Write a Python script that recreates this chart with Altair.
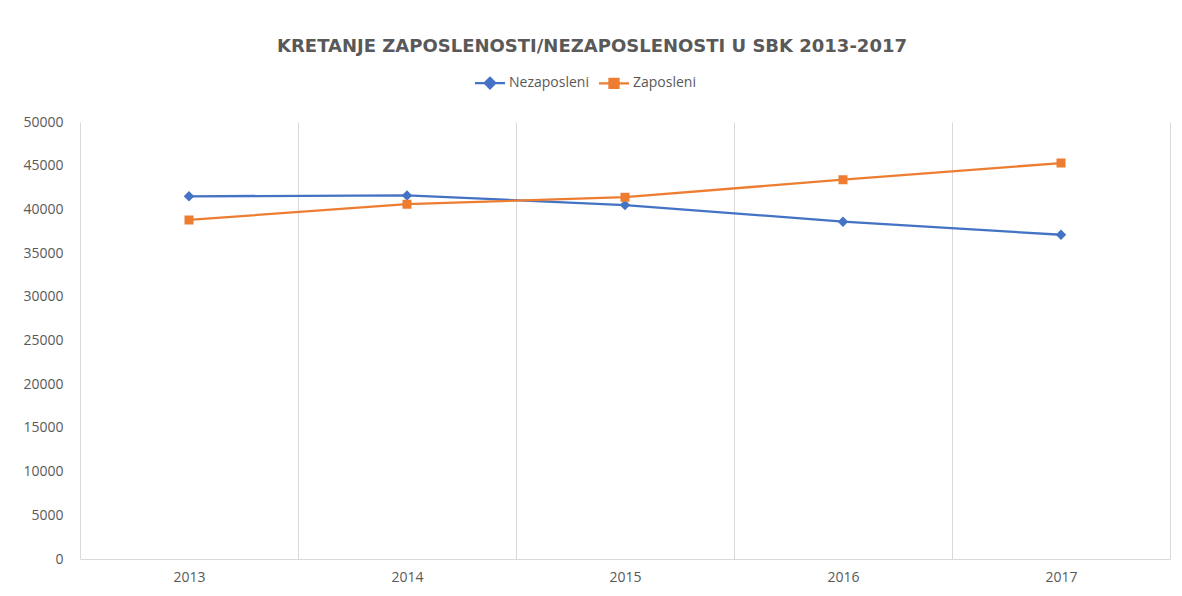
import altair as alt
import pandas as pd

years = ["2013", "2014", "2015", "2016", "2017"]
nezaposleni = [41500, 41600, 40500, 38600, 37100]
zaposleni = [38800, 40600, 41400, 43400, 45300]
series_names = ["Nezaposleni", "Zaposleni"]
y_ticks = list(range(0, 50001, 5000))

rows = []
for i, y in enumerate(years):
    rows.append({"godina": y, "serija": series_names[0], "vrijednost": nezaposleni[i]})
    rows.append({"godina": y, "serija": series_names[1], "vrijednost": zaposleni[i]})
df = pd.DataFrame(rows)

diamond = "M-3,0H3M0,-1.05L1.05,0L0,1.05L-1.05,0Z"
square = "M-3,0H3M-0.9,-0.9H0.9V0.9H-0.9Z"

FONT = "Open Sans"
GRAY = "#595959"

chart = alt.Chart(df).mark_line(
    strokeWidth=2.3,
    point=alt.OverlayMarkDef(filled=True, size=100, opacity=1),
).encode(
    x=alt.X("godina:O", title=None,
            scale=alt.Scale(type="band", paddingInner=0, paddingOuter=0),
            axis=alt.Axis(tickBand="extent", grid=True, gridColor="#d9d9d9", gridWidth=1,
                          ticks=False, domain=True, domainColor="#d9d9d9", domainWidth=1,
                          labelAngle=0, labelFont=FONT, labelFontSize=14, labelColor=GRAY,
                          labelPadding=11)),
    y=alt.Y("vrijednost:Q", title=None,
            scale=alt.Scale(domain=[0, 50000], nice=False),
            axis=alt.Axis(values=y_ticks, format="d", grid=False, ticks=False, domain=False,
                          labelFont=FONT, labelFontSize=14, labelColor=GRAY,
                          labelPadding=17)),
    color=alt.Color("serija:N", title=None,
                    scale=alt.Scale(domain=series_names, range=["#4472C4", "#ED7D31"]),
                    legend=alt.Legend(orient="none", direction="horizontal", legendX=403,
                                      legendY=-46, padding=0, labelFont=FONT,
                                      labelFontSize=14, labelColor=GRAY, symbolSize=100,
                                      symbolStrokeWidth=2.3, columnPadding=5,
                                      labelOffset=12)),
    shape=alt.Shape("serija:N", title=None,
                    scale=alt.Scale(domain=series_names, range=[diamond, square]),
                    legend=None),
).properties(
    width=1090,
    height=437,
    padding={"left": 72, "top": 114, "right": 4, "bottom": 30},
    autosize=alt.AutoSizeParams(type="none"),
    title=alt.TitleParams("KRETANJE ZAPOSLENOSTI/NEZAPOSLENOSTI U SBK 2013-2017",
                          anchor="middle", font="DejaVu Sans", fontSize=18,
                          fontWeight="bold", color=GRAY, dx=-33, offset=20),
).configure_view(strokeWidth=0)

chart.save("out.html", embed_options={"renderer": "svg", "actions": False})
